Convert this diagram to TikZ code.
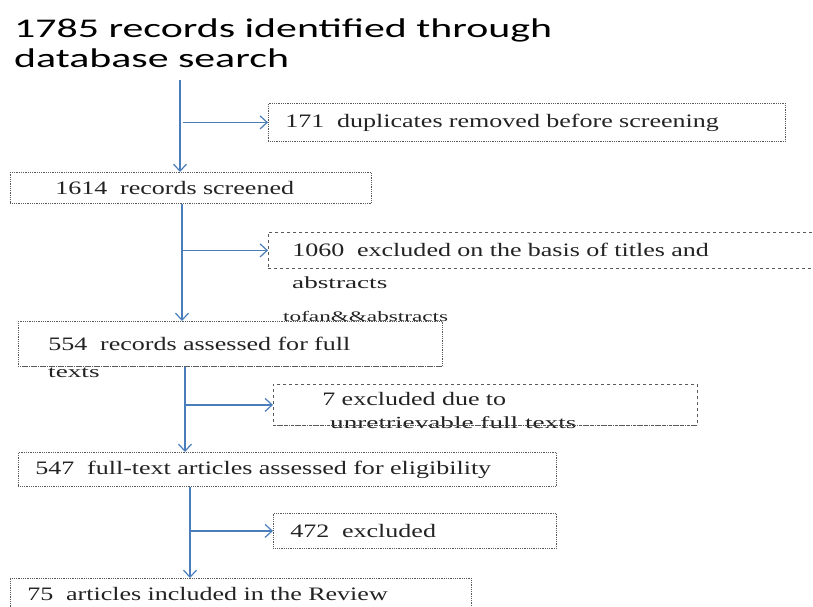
\documentclass[tikz,border=0pt]{standalone}
\usepackage{fontspec}
\usetikzlibrary{arrows.meta}
\newfontfamily\headfont[FakeStretch=1.55]{Carlito}
\newfontfamily\boxfont[FakeStretch=1.37]{Liberation Serif}
\newfontfamily\spillfont[FakeStretch=1.6]{Liberation Serif}
\definecolor{flowblue}{RGB}{74,126,187}
\definecolor{boxgray}{RGB}{90,90,90}
\definecolor{inkgray}{RGB}{35,35,35}
\tikzset{
  headtxt/.style={anchor=north west, inner sep=0pt, align=left, text=black,
    font=\headfont\fontsize{27}{30}\selectfont},
  fbox/.style={draw=boxgray, line width=0.8pt, densely dotted, anchor=north west,
    inner ysep=0pt, align=left, text=inkgray, font=\boxfont\fontsize{19}{22}\selectfont},
  dbox/.style={fbox, dashed},
  spill/.style={anchor=base west, inner sep=0pt, text=inkgray,
    font=\spillfont\fontsize{17}{20}\selectfont},
  flow/.style={draw=flowblue, line width=1.2pt, -{Straight Barb[length=7pt,width=13pt]}}
}
\begin{document}
\begin{tikzpicture}[x=1pt,y=-1pt]
  \useasboundingbox (0,0) rectangle (813,607);

  % Title
  \node[headtxt] (title) at (14,19) {1785 records identified through\\database search};

  % Boxes
  \node[fbox, text width=483pt, inner xsep=17pt, minimum height=38pt] (b1) at (268,103)
    {171~ duplicates removed before screening};
  \node[fbox, text width=271pt, inner xsep=45pt, minimum height=31pt] (b2) at (10,172)
    {1614~ records screened};
  \node[dbox, text width=512pt, inner xsep=24pt, minimum height=36pt] (b3) at (268,232)
    {1060~ excluded on the basis of titles and};
  \node[fbox, text width=364pt, inner xsep=30pt, minimum height=45pt] (b4) at (18,321)
    {554~ records assessed for full};
  \node[dbox, text width=326pt, inner xsep=49pt, minimum height=41pt, text depth=11pt] (b5) at (273,384)
    {7 excluded due to};
  \node[fbox, text width=504pt, inner xsep=17pt, minimum height=34pt] (b6) at (18,452)
    {547~ full-text articles assessed for eligibility};
  \node[fbox, text width=427pt, inner xsep=17pt, minimum height=31pt] (b8) at (10,578)
    {75~ articles included in the Review};
  \node[fbox, text width=249pt, inner xsep=17pt, minimum height=35pt] (b7) at (273,513)
    {472~ excluded};

  % Text running out of the boxes
  \node[spill] (b3x) at (292,288) {abstracts};
  \node[spill, font=\spillfont\fontsize{14.5}{17}\selectfont] (stray) at (283,321) {tofan\&\&abstracts};
  \node[spill] (b4x) at (48,377) {texts};
  \node[spill] (b5x) at (330,428) {unretrievable full texts};

  % box edges drawn over the spilled lines
  \draw[boxgray, line width=0.8pt, densely dotted] (b4.south west) -- (b4.south east);
  \draw[boxgray, line width=0.8pt, densely dotted] (b5.south west) -- (b5.south east);
  \draw[boxgray, line width=0.8pt, densely dotted] (b8.south east) -- ++(0,12);

  % Arrows
  \coordinate (s1) at (180,80);
  \coordinate (s2) at (182,0);
  \coordinate (s3) at (185,0);
  \coordinate (s4) at (190,0);
  \draw[flow] (s1) -- (s1 |- b2.north);
  \draw[flow] ([xshift=3pt]s1 |- b1.west) -- (b1.west);
  \draw[flow] (s2 |- b2.south) -- (s2 |- b4.north);
  \draw[flow] (s2 |- b3.west) -- (b3.west);
  \draw[flow] (s3 |- b4.south) -- (s3 |- b6.north);
  \draw[flow] (s3 |- b5.west) -- (b5.west);
  \draw[flow] (s4 |- b6.south) -- (s4 |- b8.north);
  \draw[flow] (s4 |- b7.west) -- (b7.west);
\end{tikzpicture}
\end{document}
